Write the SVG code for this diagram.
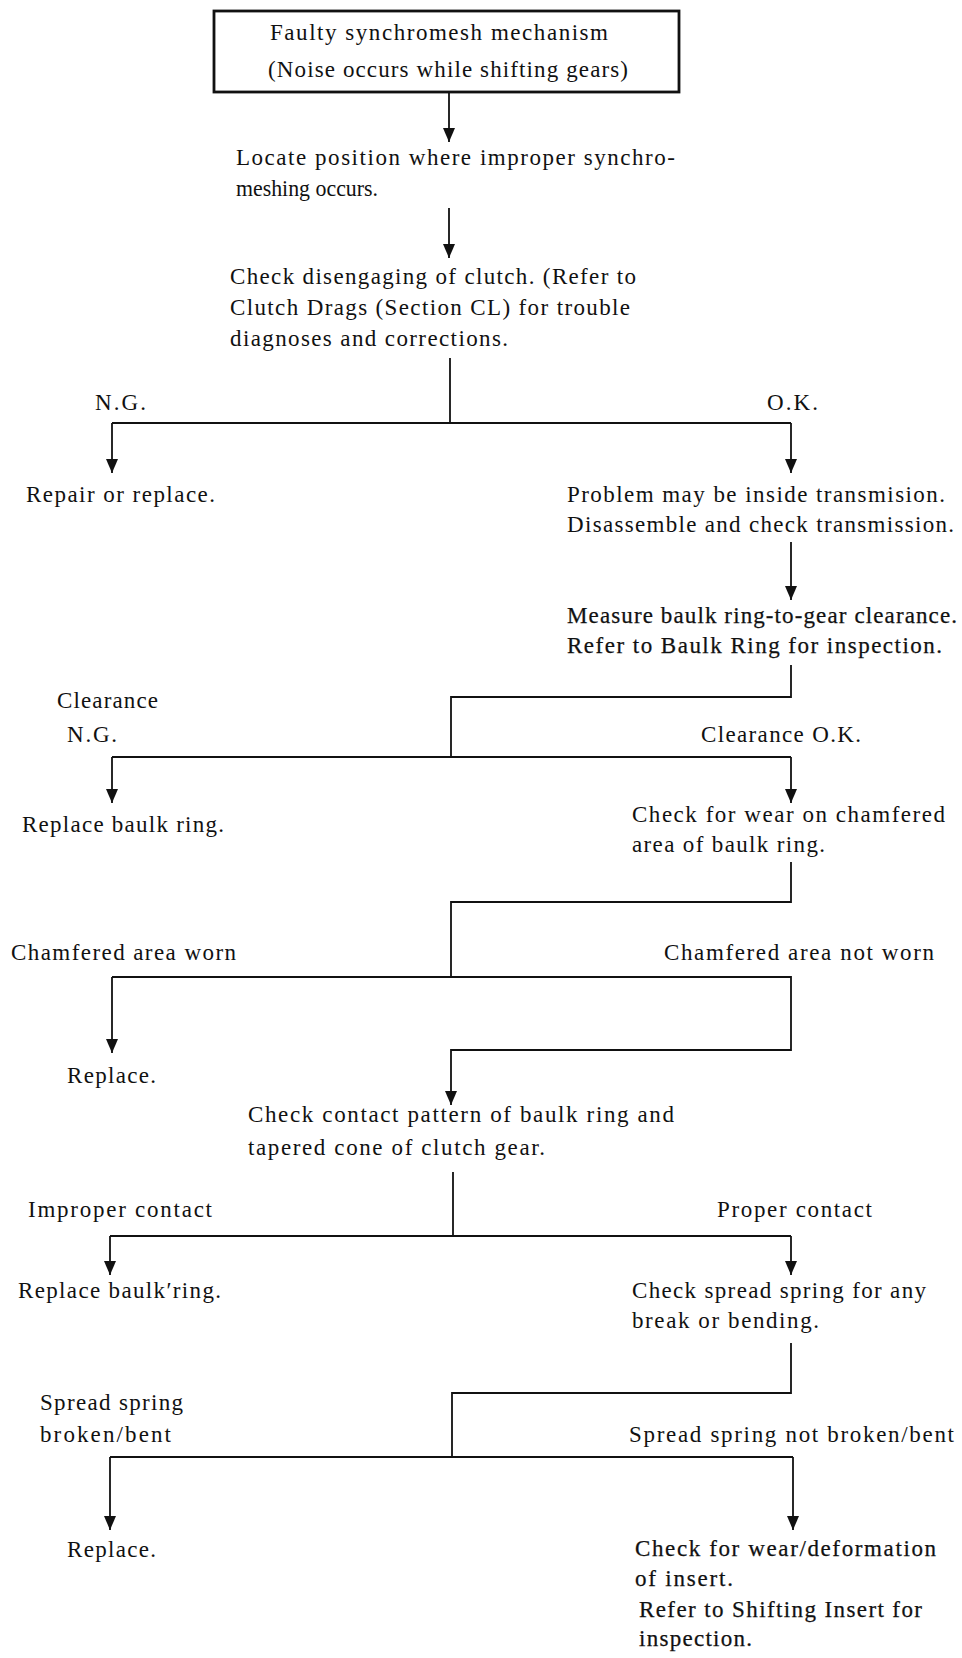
<svg xmlns="http://www.w3.org/2000/svg" width="962" height="1658" viewBox="0 0 962 1658">
<style>
text{font-family:"Liberation Serif","Times New Roman",serif;font-size:23px;fill:#111;}
.med{stroke:#111;stroke-width:0.25;}
.ln{fill:none;stroke:#111;stroke-width:1.8;}
.box{fill:#fff;stroke:#111;stroke-width:2.8;}
</style>
<defs>
<marker id="ah" viewBox="0 0 14 12" refX="14" refY="6" markerWidth="14" markerHeight="12" markerUnits="userSpaceOnUse" orient="auto">
<path d="M0,0 L14,6 L0,12 z" fill="#111"/>
</marker>
</defs>
<rect width="962" height="1658" fill="#fff"/>
<g id="connectors">
<path class="ln" d="M449 92 V142" marker-end="url(#ah)"/>
<path class="ln" d="M449 208 V258" marker-end="url(#ah)"/>
<path class="ln" d="M450 358 V423"/>
<path class="ln" d="M112 423 H791"/>
<path class="ln" d="M112 423 V473" marker-end="url(#ah)"/>
<path class="ln" d="M791 423 V473" marker-end="url(#ah)"/>
<path class="ln" d="M791 542 V600" marker-end="url(#ah)"/>
<path class="ln" d="M791 665 V697 H451 V757"/>
<path class="ln" d="M112 757 H791"/>
<path class="ln" d="M112 757 V803" marker-end="url(#ah)"/>
<path class="ln" d="M791 757 V803" marker-end="url(#ah)"/>
<path class="ln" d="M791 862 V902 H451 V977"/>
<path class="ln" d="M112 977 H791 V1050 H451 V1105" marker-end="url(#ah)"/>
<path class="ln" d="M112 977 V1053" marker-end="url(#ah)"/>
<path class="ln" d="M453 1172 V1236"/>
<path class="ln" d="M110 1236 H791"/>
<path class="ln" d="M110 1236 V1275" marker-end="url(#ah)"/>
<path class="ln" d="M791 1236 V1275" marker-end="url(#ah)"/>
<path class="ln" d="M791 1343 V1393 H452 V1457"/>
<path class="ln" d="M110 1457 H793"/>
<path class="ln" d="M110 1457 V1530" marker-end="url(#ah)"/>
<path class="ln" d="M793 1457 V1530" marker-end="url(#ah)"/>
</g>
<g id="start">
<rect class="box" x="214" y="11" width="465" height="81"/>
<text x="270" y="40" textLength="338" lengthAdjust="spacing">Faulty synchromesh mechanism</text>
<text x="268" y="77" textLength="360" lengthAdjust="spacing">(Noise occurs while shifting gears)</text>
</g>
<g id="locate">
<text x="236" y="165" textLength="439" lengthAdjust="spacing">Locate position where improper synchro-</text>
<text x="236" y="196" textLength="142" lengthAdjust="spacingAndGlyphs">meshing occurs.</text>
</g>
<g id="check-clutch">
<text x="230" y="284" textLength="406" lengthAdjust="spacing">Check disengaging of clutch. (Refer to</text>
<text x="230" y="315" textLength="400" lengthAdjust="spacing">Clutch Drags (Section CL) for trouble</text>
<text x="230" y="346" textLength="278" lengthAdjust="spacing">diagnoses and corrections.</text>
</g>
<g id="label-ng1"><text x="95" y="410" textLength="51" lengthAdjust="spacing">N.G.</text></g>
<g id="label-ok1"><text x="767" y="410" textLength="51" lengthAdjust="spacing">O.K.</text></g>
<g id="repair"><text x="26" y="502" textLength="189" lengthAdjust="spacing">Repair or replace.</text></g>
<g id="problem">
<text x="567" y="502" textLength="378" lengthAdjust="spacing">Problem may be inside transmision.</text>
<text x="567" y="532" textLength="387" lengthAdjust="spacing">Disassemble and check transmission.</text>
</g>
<g id="measure">
<text class="med" x="567" y="623" textLength="390" lengthAdjust="spacing">Measure baulk ring-to-gear clearance.</text>
<text class="med" x="567" y="653" textLength="375" lengthAdjust="spacing">Refer to Baulk Ring for inspection.</text>
</g>
<g id="label-ng2">
<text x="57" y="708" textLength="101" lengthAdjust="spacing">Clearance</text>
<text x="67" y="742" textLength="50" lengthAdjust="spacing">N.G.</text>
</g>
<g id="label-ok2"><text x="701" y="742" textLength="160" lengthAdjust="spacing">Clearance O.K.</text></g>
<g id="replace-ring1"><text x="22" y="832" textLength="202" lengthAdjust="spacing">Replace baulk ring.</text></g>
<g id="check-wear">
<text x="632" y="822" textLength="313" lengthAdjust="spacing">Check for wear on chamfered</text>
<text x="632" y="852" textLength="193" lengthAdjust="spacing">area of baulk ring.</text>
</g>
<g id="label-worn"><text x="11" y="960" textLength="225" lengthAdjust="spacing">Chamfered area worn</text></g>
<g id="label-notworn"><text x="664" y="960" textLength="270" lengthAdjust="spacing">Chamfered area not worn</text></g>
<g id="replace1"><text x="67" y="1083" textLength="89" lengthAdjust="spacing">Replace.</text></g>
<g id="check-contact">
<text x="248" y="1122" textLength="426" lengthAdjust="spacing">Check contact pattern of baulk ring and</text>
<text x="248" y="1155" textLength="297" lengthAdjust="spacing">tapered cone of clutch gear.</text>
</g>
<g id="label-improper"><text x="28" y="1217" textLength="184" lengthAdjust="spacing">Improper contact</text></g>
<g id="label-proper"><text x="717" y="1217" textLength="155" lengthAdjust="spacing">Proper contact</text></g>
<g id="replace-ring2"><text x="18" y="1298" textLength="203" lengthAdjust="spacing">Replace baulk′ring.</text></g>
<g id="check-spring">
<text x="632" y="1298" textLength="294" lengthAdjust="spacing">Check spread spring for any</text>
<text x="632" y="1328" textLength="187" lengthAdjust="spacing">break or bending.</text>
</g>
<g id="label-broken">
<text x="40" y="1410" textLength="143" lengthAdjust="spacing">Spread spring</text>
<text x="40" y="1442" textLength="131" lengthAdjust="spacing">broken/bent</text>
</g>
<g id="label-notbroken"><text x="629" y="1442" textLength="325" lengthAdjust="spacing">Spread spring not broken/bent</text></g>
<g id="replace2"><text x="67" y="1557" textLength="89" lengthAdjust="spacing">Replace.</text></g>
<g id="check-insert">
<text class="med" x="635" y="1556" textLength="301" lengthAdjust="spacing">Check for wear/deformation</text>
<text class="med" x="635" y="1586" textLength="98" lengthAdjust="spacing">of insert.</text>
<text class="med" x="639" y="1617" textLength="283" lengthAdjust="spacing">Refer to Shifting Insert for</text>
<text class="med" x="639" y="1646" textLength="113" lengthAdjust="spacing">inspection.</text>
</g>
</svg>
